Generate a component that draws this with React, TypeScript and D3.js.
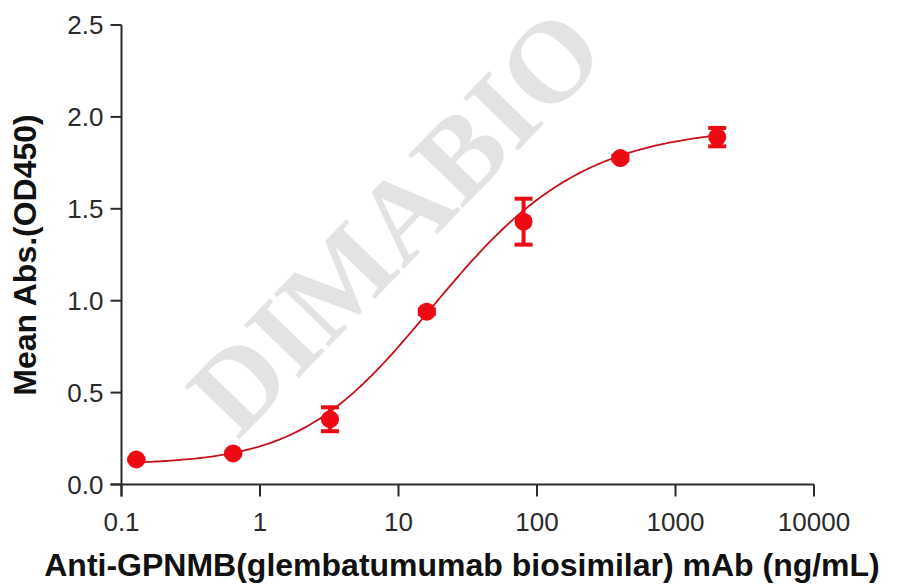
import React from "react";
import * as d3 from "d3";

// ---- data ----
const concentrations = [0.128, 0.64, 3.2, 16, 80, 400, 2000];
const meanOD = [0.136, 0.169, 0.355, 0.94, 1.43, 1.776, 1.89];
const errOD = [0.006, 0.006, 0.065, 0.012, 0.125, 0.012, 0.05];

const xTicks = [0.1, 1, 10, 100, 1000, 10000];
const xTickLabels = ["0.1", "1", "10", "100", "1000", "10000"];
const yTicks = [0, 0.5, 1, 1.5, 2, 2.5];
const yTickLabels = ["0.0", "0.5", "1.0", "1.5", "2.0", "2.5"];

// 5-parameter logistic fit
const fitBottom = 0.11;
const fitTop = 1.95;
const fitEC50 = 9.14;
const fitHill = 0.75;
const fitAsym = 1.6;

const xTitle = "Anti-GPNMB(glembatumumab biosimilar) mAb (ng/mL)";
const yTitle = "Mean Abs.(OD450)";
const watermark = "DIMABIO";

const W = 900;
const H = 584;
const RED = "#ee0a12";
const CURVE = "#c8101c";
const AXIS = "#2a2a2a";
const FONT = "'Liberation Sans', Arial, Helvetica, sans-serif";

function model(x: number) {
  return fitBottom + (fitTop - fitBottom) / Math.pow(1 + Math.pow(fitEC50 / x, fitHill), fitAsym);
}

export default function App() {
  const x = d3.scaleLog().domain([0.1, 10000]).range([121.5, 814]);
  const y = d3.scaleLinear().domain([0, 2.5]).range([484.5, 25]);

  const lo = Math.log10(concentrations[0]);
  const hi = Math.log10(concentrations[concentrations.length - 1]);
  const curvePts: [number, number][] = d3.range(0, 201).map((i) => {
    const c = Math.pow(10, lo + ((hi - lo) * i) / 200);
    return [x(c), y(model(c))];
  });
  const line = d3.line().curve(d3.curveLinear)(curvePts) || "";

  const xAxisY = y(0);
  const yAxisX = x(0.1);
  const tickLen = 11;

  return (
    <svg
      width={W}
      height={H}
      viewBox={`0 0 ${W} ${H}`}
      style={{ position: "absolute", left: 0, top: 0, background: "#fff" }}
    >
      <rect x={0} y={0} width={W} height={H} fill="#fff" />
      {/* watermark */}
      <text
        x={396}
        y={222}
        transform="rotate(-46 396 222)"
        textAnchor="middle"
        dy="0.33em"
        fontFamily="'Liberation Serif', 'Times New Roman', serif"
        fontWeight="bold"
        fontSize={116}
        fill="#e3e3e3"
      >
        {watermark}
      </text>

      {/* axes */}
      <g stroke={AXIS} strokeWidth={2} fill="none">
        <line x1={yAxisX} x2={yAxisX} y1={y(2.5)} y2={xAxisY + tickLen + 1} />
        <line x1={yAxisX - tickLen} x2={x(10000)} y1={xAxisY} y2={xAxisY} />
        {yTicks.map((t) => (
          <line key={"yt" + t} x1={yAxisX - tickLen} x2={yAxisX} y1={y(t)} y2={y(t)} />
        ))}
        {xTicks.map((t) => (
          <line key={"xt" + t} x1={x(t)} x2={x(t)} y1={xAxisY} y2={xAxisY + tickLen + 1} />
        ))}
      </g>
      <g fontFamily={FONT} fontSize={26} fill="#2a2a2a">
        {yTicks.map((t, i) => (
          <text key={"yl" + t} x={yAxisX - tickLen - 7} y={y(t)} dy="0.35em" textAnchor="end">
            {yTickLabels[i]}
          </text>
        ))}
        {xTicks.map((t, i) => (
          <text key={"xl" + t} x={x(t)} y={xAxisY + 46} textAnchor="middle">
            {xTickLabels[i]}
          </text>
        ))}
      </g>

      {/* titles */}
      <text
        x={462}
        y={576}
        textAnchor="middle"
        fontFamily={FONT}
        fontWeight="bold"
        fontSize={32}
        fill="#111"
      >
        {xTitle}
      </text>
      <text
        transform={`translate(36 255) rotate(-90)`}
        textAnchor="middle"
        fontFamily={FONT}
        fontWeight="bold"
        fontSize={32}
        fill="#111"
      >
        {yTitle}
      </text>

      {/* fitted curve */}
      <path d={line} fill="none" stroke={CURVE} strokeWidth={1.8} />

      {/* error bars */}
      <g stroke={RED} fill="none">
        {concentrations.map((c, i) => {
          const cx = x(c);
          const y1 = y(meanOD[i] + errOD[i]);
          const y2 = y(meanOD[i] - errOD[i]);
          return (
            <g key={"eb" + i}>
              <line x1={cx} x2={cx} y1={y1} y2={y2} strokeWidth={4} />
              <line x1={cx - 9} x2={cx + 9} y1={y1} y2={y1} strokeWidth={4} />
              <line x1={cx - 9} x2={cx + 9} y1={y2} y2={y2} strokeWidth={4} />
            </g>
          );
        })}
      </g>

      {/* points */}
      <g fill={RED}>
        {concentrations.map((c, i) => (
          <circle key={"pt" + i} cx={x(c)} cy={y(meanOD[i])} r={9} />
        ))}
      </g>
    </svg>
  );
}
